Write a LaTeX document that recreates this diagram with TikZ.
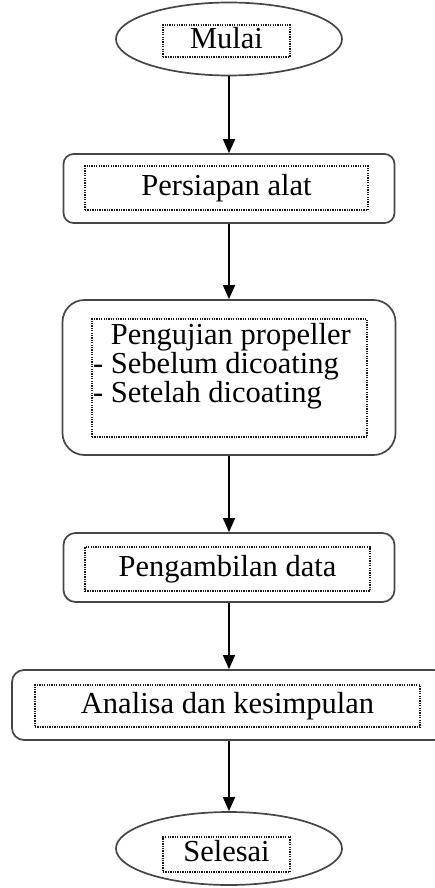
\documentclass[tikz,border=0pt]{standalone}
\usepackage{fontspec}
\setmainfont{Liberation Serif}
\definecolor{FrameColor}{RGB}{70,70,70}
\definecolor{DotColor}{RGB}{25,25,25}
\usetikzlibrary{shapes.geometric, arrows.meta}
\tikzstyle{terminal} = [ellipse, draw=FrameColor, line width=1.7pt, inner sep=0pt]
\tikzstyle{process} = [rectangle, draw=FrameColor, line width=1.7pt, inner sep=0pt]
\tikzstyle{dotbox} = [rectangle, draw=DotColor, line width=1.3pt, dash pattern=on 1.3pt off 1.1pt, inner sep=0pt, font=\fontsize{30.5}{29}\selectfont, text height=21.4pt, text depth=6.7pt]
\tikzstyle{flow} = [line width=1.4pt, -{Triangle[length=14pt,width=12pt]}]

\begin{document}
\begin{tikzpicture}[x=1pt, y=-1pt]
    \useasboundingbox (0,0) rectangle (435,888);

    % Start
    \node[terminal, minimum width=226pt, minimum height=73pt] (mulai) at (229,39) {};
    \node[dotbox, minimum width=127pt, minimum height=32pt] (mulaiText) at (226.5,41) {Mulai};

    % Preparation
    \node[process, rounded corners=10pt, minimum width=331pt, minimum height=69pt] (persiapan) at (229,188.5) {};
    \node[dotbox, minimum width=283pt, minimum height=44pt] (persiapanText) at (226.5,188) {Persiapan alat};

    % Testing, with its two cases
    \node[process, rounded corners=22pt, minimum width=333pt, minimum height=155pt] (pengujian) at (229,377.5) {};
    \node[dotbox, minimum width=275pt, minimum height=118pt] (pengujianBox) at (229.5,378) {};
    \node[anchor=north west, inner sep=0pt, align=left, font=\fontsize{30.5}{29}\selectfont] (pengujianText) at (93,323)
        {\phantom{-} Pengujian propeller\\- Sebelum dicoating\\- Setelah dicoating};

    % Data
    \node[process, rounded corners=12pt, minimum width=331pt, minimum height=69pt] (pengambilan) at (229,567.5) {};
    \node[dotbox, minimum width=285pt, minimum height=44pt] (pengambilanText) at (227.5,569) {Pengambilan data};

    % Analysis (runs past the right edge)
    \node[process, rounded corners=12pt, minimum width=434pt, minimum height=70pt] (analisa) at (229,705) {};
    \node[dotbox, minimum width=385pt, minimum height=42pt] (analisaText) at (227.5,706) {Analisa dan kesimpulan};

    % End
    \node[terminal, minimum width=226pt, minimum height=73pt] (selesai) at (229,848.5) {};
    \node[dotbox, minimum width=127pt, minimum height=35pt] (selesaiText) at (226.5,854.5) {Selesai};

    % Arrows
    \draw[flow] (mulai) -- (persiapan);
    \draw[flow] (persiapan) -- (pengujian);
    \draw[flow] (pengujian) -- (pengambilan);
    \draw[flow] (pengambilan) -- (analisa);
    \draw[flow] (analisa) -- (selesai);
\end{tikzpicture}
\end{document}
